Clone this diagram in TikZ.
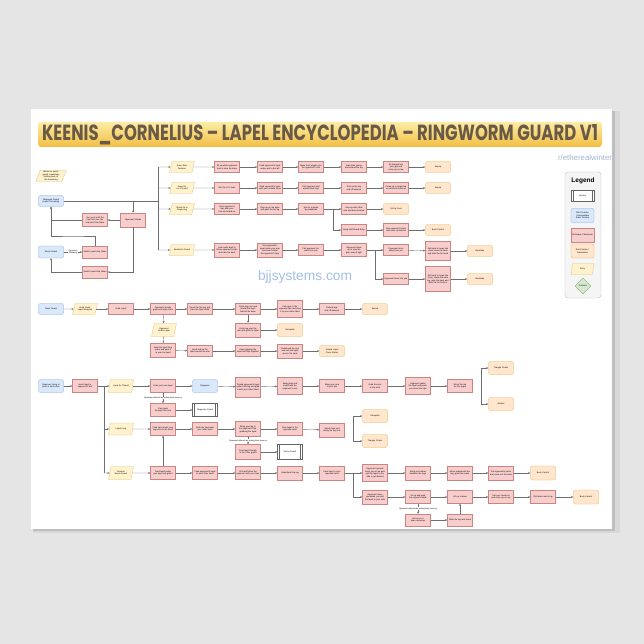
\documentclass[tikz,border=0pt]{standalone}
\usepackage{fontspec}
\usepackage{graphicx}
\usetikzlibrary{arrows.meta,shapes.geometric}

\newfontfamily\dio{Liberation Sans}
\newfontfamily\ttlfont{Poppins}

\definecolor{wallc}{RGB}{229,229,230}
\definecolor{shadowc}{RGB}{190,190,192}
\definecolor{techfill}{HTML}{F8CECC}
\definecolor{techline}{HTML}{C98582}
\definecolor{startfill}{HTML}{DAE8FC}
\definecolor{startline}{HTML}{8DA8D0}
\definecolor{endfill}{HTML}{FFE6CC}
\definecolor{endline}{HTML}{E0B45A}
\definecolor{entryfill}{HTML}{FFF2CC}
\definecolor{entryline}{HTML}{DCC37A}
\definecolor{decfill}{HTML}{D5E8D4}
\definecolor{decline}{HTML}{82B366}
\definecolor{linec}{RGB}{110,110,110}
\definecolor{titletext}{RGB}{105,90,72}
\definecolor{markc}{RGB}{165,190,230}
\definecolor{userc}{RGB}{160,182,210}

\tikzset{
  box/.style={draw, font=\dio\fontsize{2.1}{2.5}\selectfont, align=center,
    inner sep=0.8pt, minimum width=25pt, minimum height=11pt, text width=23pt,
    line width=0.3pt},
  tech/.style={box, fill=techfill, draw=techline},
  startpos/.style={box, rounded corners=2pt, fill=startfill, draw=startline},
  endpos/.style={box, rounded corners=2pt, fill=endfill, draw=endline},
  entry/.style={box, trapezium, trapezium left angle=68, trapezium right angle=112,
    trapezium stretches=true, text width=16pt, minimum width=25pt, minimum height=11pt,
    fill=entryfill, draw=entryline},
  sysbox/.style={box, fill=white, draw=black!60,
    path picture={
      \draw[black!60, line width=0.3pt]
        ([xshift=2pt]path picture bounding box.north west) -- ([xshift=2pt]path picture bounding box.south west)
        ([xshift=-2pt]path picture bounding box.north east) -- ([xshift=-2pt]path picture bounding box.south east);
    }},
  decbox/.style={draw=decline, fill=decfill, diamond, aspect=1, inner sep=0pt,
    minimum size=16pt, line width=0.3pt, font=\dio\fontsize{2.1}{2.5}\selectfont},
  lbl/.style={font=\dio\fontsize{2}{2.4}\selectfont, fill=white, inner sep=0.5pt, align=center},
  line/.style={draw=linec, line width=0.35pt},
  flow/.style={line, -{Stealth[length=2.2pt,width=1.8pt]}}
}

\begin{document}
\begin{tikzpicture}[x=1pt,y=-1pt]
  \useasboundingbox (0,0) rectangle (644,644);
  % wall and poster
  \fill[wallc] (0,0) rectangle (644,644);
  \fill[shadowc!60] (33,111) rectangle (620,533);
  \fill[shadowc] (33,111) rectangle (615,531);
  \fill[white] (31,109) rectangle (612,529);

  % title
  \node[shade, top color={rgb,255:red,252;green,236;blue,165}, bottom color={rgb,255:red,243;green,190;blue,66},
        rounded corners=3pt, minimum width=564pt, minimum height=25pt, inner sep=0pt] (title) at (320,134.5) {};
  \node[text=titletext, inner sep=0pt] (titletxt) at (title.center)
    {\resizebox{556pt}{16pt}{\ttlfont\bfseries KEENIS\_CORNELIUS \textendash{} LAPEL ENCYCLOPEDIA \textendash{} RINGWORM GUARD V1}};
  \node[text=userc, inner sep=0pt] (user) at (585,158) {\resizebox{54pt}{!}{\dio r/etherealwinter}};
  \node[text=markc, inner sep=0pt] (mark) at (305,277) {\resizebox{94pt}{!}{\dio bjjsystems.com}};

  % legend
  \node[draw=black!25, fill=black!4, rounded corners=3pt, minimum width=36pt, minimum height=126pt, line width=0.4pt] (legend) at (583,235) {};
  \node[font=\dio\bfseries\fontsize{6.5}{7}\selectfont] (legendttl) at (583,181) {Legend};
  \node[sysbox, minimum width=23pt, minimum height=11pt, text width=18pt] (lgsys) at (582.5,195.5) {System};
  \node[startpos, minimum width=23pt, minimum height=14pt, text width=21pt] (lgstart) at (582.5,215.5) {Start Position / Intermediate Static Position};
  \node[tech, minimum width=23pt, minimum height=14pt, text width=21pt] (lgtech) at (582.5,235) {Technique / Maneuver};
  \node[endpos, minimum width=23pt, minimum height=14pt, text width=21pt] (lgend) at (582.5,251) {End Position / Submission};
  \node[entry, minimum width=23pt, minimum height=11pt] (lgentry) at (582.5,269) {Entry};
  \node[decbox] (lgdec) at (583,286) {Decision};

  % ---- ringworm guard ----
  \node[entry, text width=20pt, minimum width=28pt] (note) at (51,176) {Moves to sports guard, sometimes holding back of the hamstring};
  \node[startpos] (rwg) at (51,201) {Ringworm Guard (Lapel Threading)};
  \node[tech, minimum height=13pt] (scoot) at (95,220) {You scoot until the heel hits your hip and post from there};
  \node[tech, minimum height=14pt] (opst) at (133,220) {Opponent Stands};
  \node[startpos, minimum height=12pt] (wg) at (51,252) {Worm Guard};
  \node[tech, minimum height=12pt] (sw1) at (95,252) {Switch Lapel Grip Sides};
  \node[tech, minimum height=12pt] (sw2) at (95,272) {Switch Lapel Grip Sides};

  \coordinate (tA) at (158,167);
  \coordinate (tB) at (158,250);

  \node[entry] (e1) at (182,167) {Knee Slice Defense};
  \node[entry] (e2) at (182,188) {Deep De La X Guard};
  \node[entry] (e3) at (182,209) {Stand Up to Single Leg};
  \node[entry] (e4) at (182,250) {Berimbolo Guard};

  \node[tech] (a11) at (227,167) {Sit up while opponent tries to slice his knee};
  \node[tech] (a12) at (270,167) {Feed opponent's lapel under and to the left};
  \node[tech] (a13) at (311,167) {Move their weight onto the opponent's shin};
  \node[tech] (a14) at (354,167) {Grab their sleeve and extend the leg};
  \node[tech] (a15) at (396,167) {Sit forward into your grip and come up on top};
  \node[endpos] (a16) at (438,167) {Sweep};

  \node[tech] (a21) at (227,188) {Get the K-X Hook};
  \node[tech] (a22) at (270,188) {Grab opponent's lapel with your outside hand};
  \node[tech] (a23) at (311,188) {Pull opponent and extend their legs};
  \node[tech] (a24) at (354,188) {Kick up the leg and off balance};
  \node[tech] (a25) at (396,188) {Come up to single leg or technical stand up};
  \node[endpos] (a26) at (438,188) {Sweep};

  \node[tech] (a31) at (227,209) {Push opponent's hips with your foot and stand up};
  \node[tech] (a32) at (270,209) {Step up on the knee and grab the far leg};
  \node[tech] (a33) at (311,209) {Run to a single leg takedown};
  \node[tech] (a34) at (354,209) {Step up with other arm and drive forward};
  \node[endpos] (a36) at (396,209) {Sit-Up Pass};
  \node[tech] (a35) at (354,230) {Deep Half Guard Entry};
  \node[tech, minimum height=13pt] (a37) at (396,230) {Grip opponent's back and come up behind};
  \node[endpos] (a38) at (438,230) {Back Control};

  \node[tech, minimum height=14pt] (a41) at (227,250) {Invert with lapel to follow opponent's hips and take the back};
  \node[tech, minimum height=14pt] (a42) at (270,250) {Grip opponent's lapel under your arm and invert under the opponent's hips};
  \node[tech] (a43) at (311,250) {Pull opponent forward onto you};
  \node[tech, minimum height=13pt] (a44) at (354,250) {Opponent steps up to stop the grip, keep it tight};
  \node[tech] (a45) at (396,250) {Opponent turns away from you};
  \node[tech] (a46) at (396,279) {Opponent turns into you};
  \node[tech, minimum height=19pt] (a47) at (438,251) {Pull lapel to keep him close, wrap the back and take the far hook};
  \node[endpos] (a48) at (480,251) {Backtake};
  \node[tech, minimum height=25pt] (a49) at (438,279) {Pull lapel to keep him close, clamp the near leg, take the back and slide the far hook in};
  \node[endpos] (a50) at (480,279) {Backtake};

  \coordinate (dropA) at (opst |- rwg);
  \coordinate (jA3) at (333,209);
  \coordinate (jA4) at (375,250);

  \draw[line] (rwg.east) -- (tA |- rwg);
  \draw[line] (tA) -- (tB);
  \draw[flow] (dropA) -- (opst);
  \foreach \t in {e1,e2,e3,e4}
    \draw[flow] (tA |- \t) -- (\t);
  \draw[flow] (opst) -- (scoot);
  \draw[flow] (scoot.west) -| (rwg.south);
  \draw[flow] (sw1.north) |- (73,236) -| (rwg.south);
  \draw[flow] (opst.south) |- (sw2.east);
  \draw[flow] (sw2.west) -| (wg.south);
  \draw[flow] (wg) -- node[lbl] {Opponent\\Standing} (sw1);

  \foreach \a/\b in {e1/a11,a11/a12,a12/a13,a13/a14,a14/a15,a15/a16,
                     e2/a21,a21/a22,a22/a23,a23/a24,a24/a25,a25/a26,
                     e3/a31,a31/a32,a32/a33,a33/a34,a34/a36,a35/a37,a37/a38,
                     e4/a41,a41/a42,a42/a43,a43/a44,a44/a45,a45/a47,a47/a48,a46/a49,a49/a50}
    \draw[flow] (\a) -- (\b);
  \draw[flow] (jA3) |- (a35);
  \draw[flow] (jA4) |- (a46);

  % ---- open guard ----
  \node[startpos] (og) at (51,309) {Open Guard};
  \node[entry] (b1) at (85,309) {Knee Under Lapel Wrapped};
  \node[tech] (b2) at (121,309) {Grab Lapel};
  \node[tech] (b3) at (163,309) {Opponent breaks grips and steps back};
  \node[tech] (b4) at (200,309) {Reach for the leg and pass the lapel under};
  \node[tech] (b5) at (248,309) {Circle leg over and thread the lapel behind the knee};
  \node[tech, minimum height=17pt] (b6) at (290,309) {Pull lapel to the opposite side and pass it to your other hand};
  \node[tech] (b7) at (332,309) {Extend legs and off balance};
  \node[endpos] (b8) at (375,309) {Sweep};
  \node[entry, minimum height=13pt] (b9) at (164,330) {Opponent Grabs Lapel};
  \node[tech, minimum height=14pt] (b10) at (163,350) {Grab the lapel from under and pass it to your far hand};
  \node[tech] (b11) at (200,351) {Hook and tie the lapel around the arm};
  \node[tech] (b12) at (248,351) {Keep gripping the lapel and hips together};
  \node[tech, minimum height=14pt] (b13) at (290,351) {Underhook the arm and lock the lapel across the neck};
  \node[endpos] (b14) at (332,351) {Double Lapel Cross Choke};
  \node[tech, minimum height=14pt] (b15) at (248,330) {Circle leg over the arm and grab the lapel};
  \node[endpos, minimum height=13pt] (b16) at (290,330) {Omoplata};

  \foreach \a/\b in {og/b1,b1/b2,b2/b3,b3/b4,b4/b5,b5/b6,b6/b7,b7/b8,
                     b3/b9,b9/b10,b10/b11,b11/b12,b12/b13,b13/b14,b5/b15,b15/b16}
    \draw[flow] (\a) -- (\b);

  % ---- lapel threading ----
  \node[startpos, minimum height=13pt] (c0) at (51,386) {Opponent trying to pass or knee slice};
  \node[tech, minimum height=13pt] (c1) at (85,386) {Insert lapel in opponent's belt};
  \node[entry, minimum height=13pt] (y1) at (121,386) {Lapel 2x Thread};
  \node[entry, minimum height=12pt] (y2) at (121,429) {Lapel Loop};
  \node[entry, minimum height=13pt] (y3) at (121,473) {Reverse Worm Guard};
  \coordinate (jC) at (104,386);

  \node[tech, minimum height=13pt] (c2) at (163,386) {Grab your own lapel};
  \node[startpos, minimum height=13pt] (c3) at (205,386) {Ringworm};
  \node[tech, minimum height=20pt] (c4) at (248,387) {Thread opponent's lapel under their leg and grab it with your other hand};
  \node[tech, minimum height=17pt] (c5) at (290,386) {Swing legs and underhook the opponent's arm};
  \node[tech, minimum height=13pt] (c6) at (332,386) {Bring your arm to your hip};
  \node[tech, minimum height=13pt] (c7) at (375,386) {Grab the arm at the wrist};
  \node[tech, minimum height=17pt] (c8) at (418,386) {Opponent grabs the lapel and posts, you shoot the hips};
  \node[tech, minimum height=13pt] (c9) at (460,386) {Shoot the hip for the angle};
  \node[endpos, minimum height=13pt] (c10) at (501,368) {Triangle Choke};
  \node[endpos, minimum height=13pt] (c11) at (501,404) {Armbar};
  \coordinate (jC9) at (481,386);

  \node[tech, minimum height=13pt] (c12) at (163,410) {Pass lapel through their arm};
  \node[sysbox, minimum height=13pt] (c13) at (205,410) {Ringworm Guard};

  \node[tech, minimum height=13pt] (c14) at (163,429) {Feed lapel under your legs across the head};
  \node[tech, minimum height=13pt] (c15) at (205,429) {Grab the lapel with your other hand};
  \node[tech, minimum height=15pt] (c16) at (248,429) {Bring your leg to the opponent's hip, grabbing the lapel};
  \node[tech, minimum height=13pt] (c17) at (290,429) {Pass lapel to the opposite hand};
  \node[tech, minimum height=14pt] (c18) at (332,430) {Switch hips and swing the leg over};
  \node[endpos, minimum height=13pt] (c19) at (375,416) {Omoplata};
  \node[endpos, minimum height=13pt] (c20) at (375,441) {Triangle Choke};
  \coordinate (jC18) at (353,430);
  \node[tech, minimum height=15pt] (c21) at (248,452) {Pass lapel through to the other guard};
  \node[sysbox, minimum height=15pt] (c22) at (290,452) {Worm Guard};

  \node[tech, minimum height=13pt] (c23) at (163,473) {Feed lapel under your legs and grab it};
  \node[tech, minimum height=13pt] (c24) at (205,473) {Feed opponent's lapel to your other hand};
  \node[tech, minimum height=13pt] (c25) at (248,473) {Pull and follow the opponent with your hips};
  \node[tech, minimum height=14pt] (c26) at (290,473) {Underhook the leg};
  \node[tech, minimum height=14pt] (c27) at (332,473) {Pass lapel to your opposite hand};
  \coordinate (jC27) at (353,473);
  \node[tech, minimum height=17pt] (c28) at (375,473) {Opponent sprawls back, you sit up and pull the lapel to the side to get behind};
  \node[tech, minimum height=14pt] (c29) at (375,497) {Opponent stays grounded, you pull the lapel to your side};
  \node[tech, minimum height=14pt] (c30) at (418,473) {Bring your elbow between the legs};
  \node[tech, minimum height=14pt] (c31) at (460,473) {Move underneath the leg, grab their waist};
  \node[tech, minimum height=14pt] (c32) at (501,473) {Pull opponent's pants and come out the back};
  \node[endpos, minimum height=14pt] (c33) at (543,473) {Back Control};
  \node[tech, minimum height=13pt] (c34) at (418,497) {Sit up and grab the opposite ankle};
  \node[tech, minimum height=13pt] (c35) at (460,497) {Lift up to base};
  \node[tech, minimum height=13pt] (c36) at (501,497) {Get your head out and come up on top};
  \node[tech, minimum height=13pt] (c37) at (543,497) {Pull down and sit up};
  \node[endpos, minimum height=14pt] (c38) at (586,497) {Back Control};
  \node[tech, minimum height=12pt] (c39) at (418,520) {Get up on a knee and wrap};
  \node[tech, minimum height=12pt] (c40) at (460,520) {Slide the leg and stand};

  \draw[flow] (c0) -- (c1);
  \draw[line] (c1) -- (jC);
  \draw[line] (jC) -- (jC |- y3);
  \draw[flow] (jC) -- (y1);
  \draw[flow] (jC |- y2) -- (y2);
  \draw[flow] (jC |- y3) -- (y3);
  \foreach \a/\b in {y1/c2,c2/c3,c3/c4,c4/c5,c5/c6,c6/c7,c7/c8,c8/c9,c12/c13,
                     y2/c14,c14/c15,c15/c16,c16/c17,c17/c18,c21/c22,c23/c14,
                     y3/c23,c23/c24,c24/c25,c25/c26,c26/c27,c27/c28,
                     c28/c30,c30/c31,c31/c32,c32/c33,
                     c29/c34,c34/c35,c35/c36,c36/c37,c37/c38,c39/c40,c40/c35}
    \draw[flow] (\a) -- (\b);
  \draw[flow] (jC9) |- (c10);
  \draw[flow] (jC9) |- (c11);
  \draw[flow] (jC18) |- (c19);
  \draw[flow] (jC18) |- (c20);
  \draw[flow] (jC27) |- (c29);
  \draw[flow] (c2) -- node[lbl] {Opponent defends by putting their knee up} (c12);
  \draw[flow] (c16) -- node[lbl] {Opponent defends by putting their knee up} (c21);
  \draw[flow] (c34) -- node[lbl] {Opponent defends by putting their knee up} (c39);
\end{tikzpicture}
\end{document}
